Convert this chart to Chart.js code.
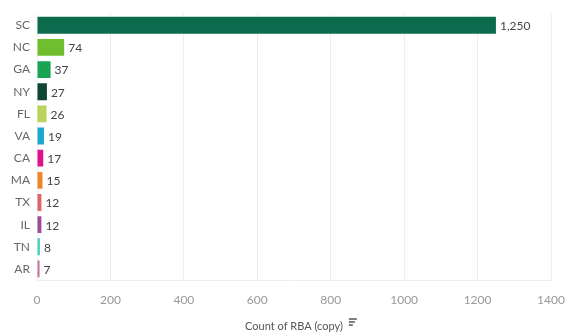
<!DOCTYPE html>
<html>
<head>
<meta charset="utf-8">
<script src="https://cdn.jsdelivr.net/npm/chart.js@4/dist/chart.umd.min.js"></script>
<style>
  html, body { margin: 0; padding: 0; background: #fff; }
</style>
</head>
<body>
<canvas id="rbaChart" width="565" height="333"></canvas>
<script>
// --- datos ---
const states = ['SC', 'NC', 'GA', 'NY', 'FL', 'VA', 'CA', 'MA', 'TX', 'IL', 'TN', 'AR'];
const counts = [1250, 74, 37, 27, 26, 19, 17, 15, 12, 12, 8, 7];
const xTicks = [0, 200, 400, 600, 800, 1000, 1200, 1400];

// un color por estado
const stateColors = [
  '#0b6b4c', '#6fbe2e', '#19a454', '#0f4631', '#b9d35b', '#1fa8cf',
  '#e0138c', '#f0852b', '#de6268', '#9a4c95', '#4ccfbf', '#c6769f'
];

const font = "Lato, 'Open Sans', sans-serif";

// etiquetas de valor al final de cada barra
const valueLabels = {
  id: 'valueLabels',
  afterDatasetsDraw(chart) {
    const ctx = chart.ctx;
    const meta = chart.getDatasetMeta(0);
    ctx.save();
    ctx.font = '12px ' + font;
    ctx.fillStyle = '#444';
    ctx.textAlign = 'left';
    ctx.textBaseline = 'middle';
    meta.data.forEach((bar, i) => {
      ctx.fillText(counts[i].toLocaleString('en-US'), bar.x + 4, bar.y + 1);
    });
    ctx.restore();
  }
};

// icono de orden junto al título del eje
const sortIcon = {
  id: 'sortIcon',
  afterDraw(chart) {
    const ctx = chart.ctx;
    const t = 'Count of RBA (copy)';
    ctx.save();
    ctx.font = '11px ' + font;
    const w = ctx.measureText(t).width;
    const cx = (chart.chartArea.left + chart.chartArea.right) / 2;
    const x = cx + w / 2 + 6;
    const y = 319;
    ctx.strokeStyle = '#555';
    ctx.lineWidth = 1.5;
    [8, 6, 4].forEach((len, i) => {
      ctx.beginPath();
      ctx.moveTo(x, y + i * 3);
      ctx.lineTo(x + len, y + i * 3);
      ctx.stroke();
    });
    ctx.restore();
  }
};

new Chart(document.getElementById('rbaChart'), {
  type: 'bar',
  data: {
    labels: states,
    datasets: [{
      data: counts,
      backgroundColor: stateColors,
      borderWidth: 0,
      barPercentage: 0.76,
      categoryPercentage: 1.0
    }]
  },
  options: {
    indexAxis: 'y',
    responsive: false,
    animation: false,
    layout: { padding: { top: 13, right: 0, left: 0, bottom: 0 } },
    plugins: {
      legend: { display: false },
      tooltip: { enabled: false }
    },
    scales: {
      x: {
        min: 0,
        max: 1400,
        afterBuildTicks: (axis) => { axis.ticks = xTicks.map(v => ({ value: v })); },
        afterFit: (axis) => {
          axis.height = 53;
          axis.paddingLeft = 0;
          axis.paddingRight = 14;
        },
        grid: { color: '#eeeeee', lineWidth: 1, drawTicks: false },
        border: { color: '#eeeeee' },
        ticks: {
          color: '#999',
          font: { family: font, size: 12 },
          padding: 13,
          maxRotation: 0,
          callback: (v) => String(v)
        },
        title: {
          display: true,
          text: 'Count of RBA (copy)',
          color: '#555',
          font: { family: font, size: 11 },
          padding: { top: 4, bottom: 0 }
        }
      },
      y: {
        afterFit: (axis) => { axis.width = 37; },
        grid: { display: false, drawTicks: false },
        border: { display: false },
        ticks: {
          color: '#666',
          font: { family: font, size: 12 },
          padding: 7
        }
      }
    }
  },
  plugins: [valueLabels, sortIcon]
});
</script>
</body>
</html>
